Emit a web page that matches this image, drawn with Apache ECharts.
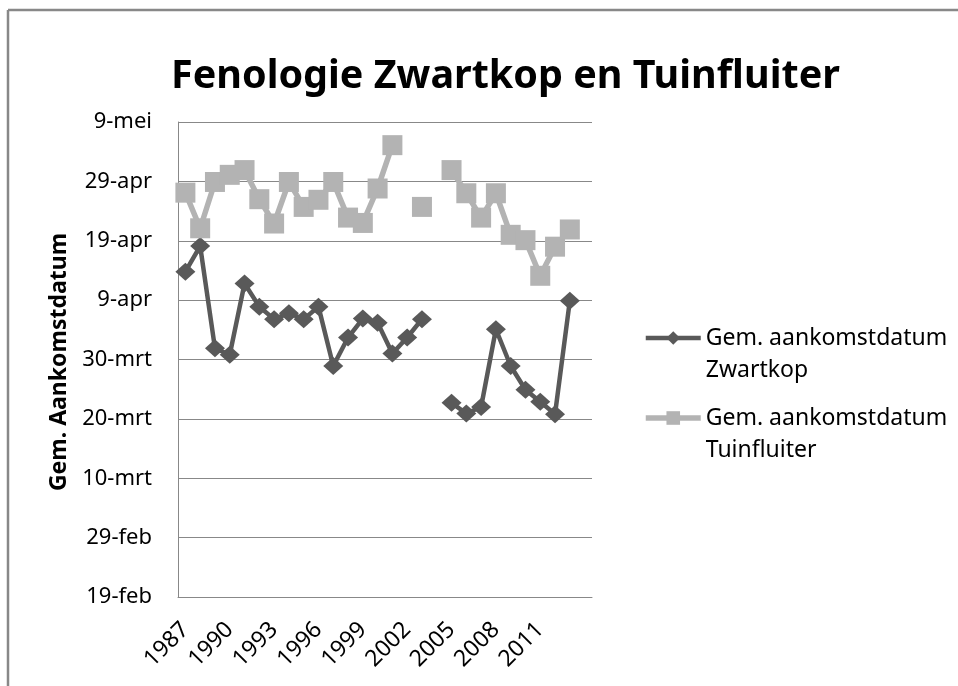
<!DOCTYPE html>
<html>
<head>
<meta charset="utf-8">
<script src="https://cdn.jsdelivr.net/npm/echarts@6/dist/echarts.min.js"></script>
<style>html,body{margin:0;padding:0;background:#fff}#c{width:958px;height:686px}</style>
</head>
<body>
<div id="c"></div>
<script>
// Categories (years); last category is an empty slot as in the original sheet
const years = ['1987','1988','1989','1990','1991','1992','1993','1994','1995','1996','1997','1998','1999','2000','2001','2002','2003','2004','2005','2006','2007','2008','2009','2010','2011','2012','2013',''];
// Values are day-of-year (leap-year calendar): 50 = 19-feb, 130 = 9-mei
const zwartkop = [104.8,109.1,91.9,90.8,102.8,98.9,96.8,97.8,96.8,98.9,88.9,93.7,96.9,96.2,91.0,93.7,96.8,null,82.7,80.9,82.0,95.1,88.9,84.9,82.9,80.8,99.9,null];
const tuinfluiter = [118.1,112.1,119.9,121.1,121.9,117.0,112.9,119.9,115.7,116.9,119.9,113.9,113.0,118.8,126.1,null,115.7,null,121.9,118.0,113.9,118.0,111.0,110.1,104.1,109.0,111.9,null];
// Y tick labels from 50 to 130 step 10
const yTickValues = [50,60,70,80,90,100,110,120,130];
const yTickLabels = ['19-feb','29-feb','10-mrt','20-mrt','30-mrt','9-apr','19-apr','29-apr','9-mei'];

const seriesNames = ['Gem. aankomstdatum\nZwartkop','Gem. aankomstdatum\nTuinfluiter'];
const titleText = 'Fenologie Zwartkop en Tuinfluiter';
const yAxisName = 'Gem. Aankomstdatum';

const FONT = "'Noto Sans', 'Open Sans', sans-serif";
const chart = echarts.init(document.getElementById('c'), null, {renderer:'canvas'});
chart.setOption({
  backgroundColor:'#fff',
  animation:false,
  title:{
    text:titleText, left:166, top:52,
    textStyle:{fontFamily:FONT, fontSize:39.5, fontWeight:'bold', color:'#000'}
  },
  grid:{left:178, top:122, right:366, bottom:89, containLabel:false},
  xAxis:{
    type:'category', data:years, boundaryGap:true,
    axisLine:{show:true, lineStyle:{color:'#888', width:1}},
    axisTick:{show:false},
    axisLabel:{interval:2, rotate:45, margin:29, fontFamily:FONT, fontSize:23, color:'#000'},
    splitLine:{show:false}
  },
  yAxis:{
    type:'value', min:50, max:130, interval:10,
    axisLine:{show:true, lineStyle:{color:'#888', width:1}},
    axisTick:{show:false},
    axisLabel:{margin:26, fontFamily:FONT, fontSize:22, color:'#000',
      formatter:function(v){const i=yTickValues.indexOf(v); return i>=0?yTickLabels[i]:'';}},
    splitLine:{show:true, lineStyle:{color:'#888', width:1}}
  },
  legend:{
    orient:'vertical', left:638, top:285, itemWidth:55, itemHeight:17, itemGap:-16,
    data:seriesNames,
    lineStyle:{width:'inherit'},
    formatter:function(name){ return ' \n' + name; },
    textStyle:{fontFamily:FONT, fontSize:23, color:'#000', lineHeight:32}
  },
  series:[
    {name:seriesNames[0], type:'line', data:zwartkop, connectNulls:false,
     symbol:'diamond', symbolSize:[20,18], showSymbol:true, showAllSymbol:true,
     itemStyle:{color:'#595959'}, lineStyle:{color:'#595959', width:4.5}},
    {name:seriesNames[1], type:'line', data:tuinfluiter, connectNulls:false,
     symbol:'rect', symbolSize:20, showSymbol:true, showAllSymbol:true,
     itemStyle:{color:'#b3b3b3'}, lineStyle:{color:'#b3b3b3', width:5.5}}
  ],
  graphic:[
    {type:'line', shape:{x1:8, y1:10, x2:8, y2:686}, style:{stroke:'#888', lineWidth:2.5}},
    {type:'line', shape:{x1:8, y1:10, x2:958, y2:10}, style:{stroke:'#888', lineWidth:2.5}},
    {type:'text', x:59, y:362, rotation:Math.PI/2,
     style:{text:yAxisName, fontFamily:FONT, fontSize:23, fontWeight:'bold', fill:'#000', align:'center', verticalAlign:'middle'}}
  ]
});
</script>
</body>
</html>
